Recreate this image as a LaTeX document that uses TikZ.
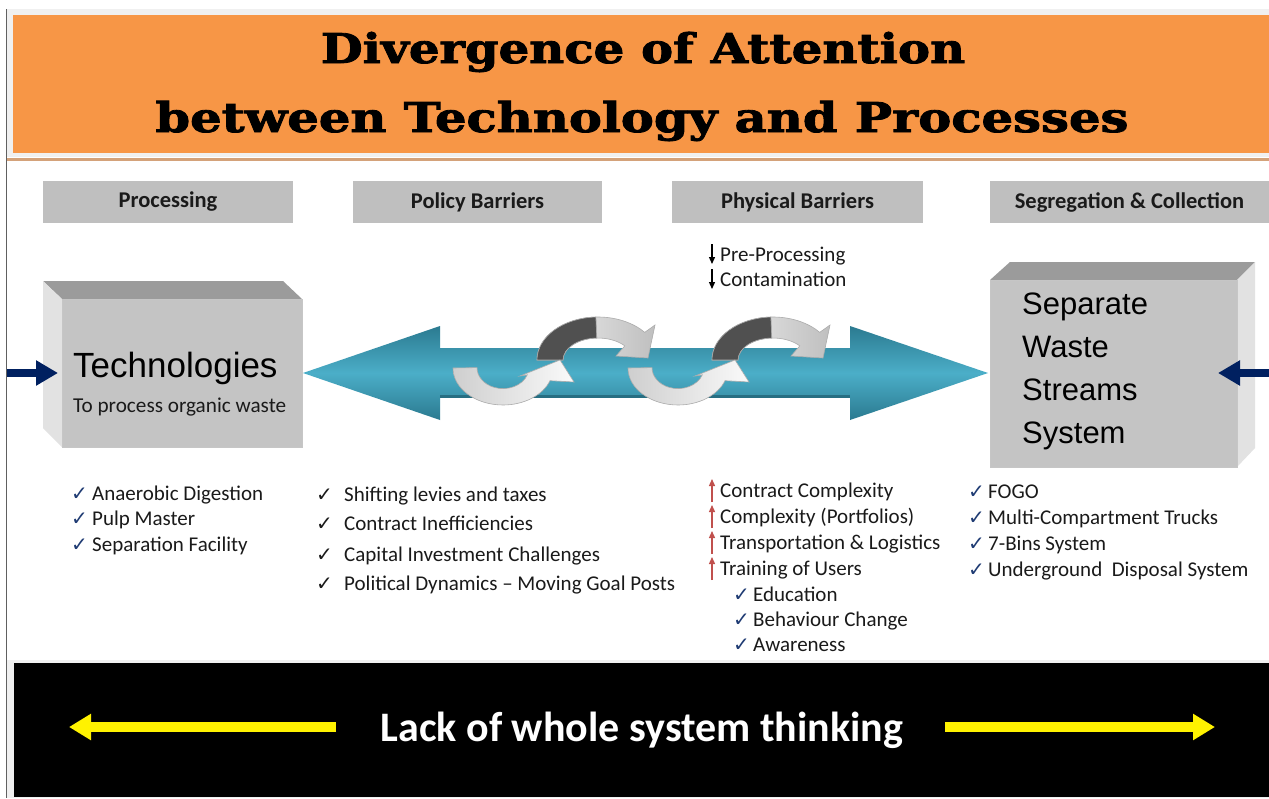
\documentclass[tikz,border=0pt]{standalone}
\usepackage{graphicx}
\usepackage{fontspec}
\setmainfont{Carlito}
\newfontfamily\arialf{Liberation Sans}
\newfontfamily\titlef{DejaVu Serif}[BoldFeatures={FakeBold=2}]
\newfontfamily\symf{DejaVu Sans}
\usetikzlibrary{arrows.meta,calc}
\definecolor{orangeT}{HTML}{F79646}
\definecolor{hdrgray}{HTML}{BFBFBF}
\definecolor{topgray}{HTML}{9B9B9B}
\definecolor{sidegray}{HTML}{E2E2E2}
\definecolor{frontgray}{HTML}{C4C4C4}
\definecolor{navyA}{HTML}{002060}
\definecolor{ckblue}{HTML}{1F3B73}
\definecolor{tealD}{HTML}{2B7A90}
\definecolor{tealL}{HTML}{4BAEC8}
\definecolor{redA}{HTML}{C0504D}
\definecolor{tanline}{HTML}{D4A27A}
\definecolor{txt}{HTML}{1A1A1A}
\definecolor{darkband}{HTML}{505050}
\newcommand{\ckm}{{\symf\fontsize{20}{20}\selectfont ✓}}
\tikzset{
  hdr/.style={fill=hdrgray, minimum height=42pt, inner sep=0pt, text=txt,
    font=\bfseries\fontsize{22.5}{24}\selectfont},
  item/.style={anchor=base west, inner sep=0pt, text=txt, font=\fontsize{21}{24}\selectfont},
  navyarrow/.style={draw=navyA, line width=8pt, -{Triangle[width=24pt,length=22pt]}},
  yelarrow/.style={draw=yellow, line width=10pt, -{Triangle[width=25pt,length=22pt]}},
  redup/.style={draw=redA, line width=1.3pt, -{Triangle[width=6pt,length=7pt]}},
  blkdown/.style={draw=black, line width=1.3pt, -{Triangle[width=6pt,length=7pt]}},
  lightband/.style={draw=gray!65, line width=0.6pt},
}
\begin{document}
\begin{tikzpicture}[x=1pt,y=-1pt]
\useasboundingbox (0,0) rectangle (1269,798);
\fill[white] (0,0) rectangle (1269,798);
% frame and title band
\fill[gray!12] (7,9) rectangle (1269,157);
\fill[orangeT] (13,15) rectangle (1269,153);
\draw[tanline, line width=2.5pt] (7,159.5) -- (1269,159.5);
\draw[gray!75!black, line width=1.2pt] (6.5,9) -- (6.5,798);
\node[anchor=base, inner sep=0pt, font=\titlef\bfseries\fontsize{41}{41}\selectfont] (t1) at (643,63)
  {\scalebox{1.175}[1]{Divergence of Attention}};
\node[anchor=base, inner sep=0pt, font=\titlef\bfseries\fontsize{41}{41}\selectfont] (t2) at (642,132)
  {\scalebox{1.21}[1]{between Technology and Processes}};
% headers
\node[hdr, minimum width=250pt] (h1) at (168,202) {Processing};
\node[hdr, minimum width=249pt] (h2) at (477.5,202) {Policy Barriers};
\node[hdr, minimum width=251pt] (h3) at (797.5,202) {Physical Barriers};
\node[hdr, minimum width=279pt] (h4) at (1129.5,202) {Segregation \& Collection};
% teal double arrow
\path[top color=tealD, bottom color=tealD, middle color=tealL]
  (303,373) -- (440,326) -- (440,348) -- (850,348) -- (850,326) -- (988,373)
  -- (850,420) -- (850,397) -- (440,397) -- (440,420) -- cycle;
\fill[tealD!90!black] (440,395) rectangle (850,397.5);
% circular arrows
\foreach \dx in {0,175}{
\begin{scope}[shift={(503+\dx,368)}]
  \begin{scope}[shift={(95,-8)}]
    \path[lightband, left color=gray!12, right color=gray!50]
      (-61,0) arc[start angle=180,end angle=320,x radius=61,y radius=43]
      -- (57,-35) -- (50,-2) -- (18,-4) -- (26.8,-14.1)
      arc[start angle=320,end angle=180,x radius=35,y radius=22] -- cycle;
    \path[lightband, fill=darkband]
      (-61,0) arc[start angle=180,end angle=268,x radius=61,y radius=43]
      -- ({35*cos(268)},{22*sin(268)})
      arc[start angle=268,end angle=180,x radius=35,y radius=22] -- cycle;
  \end{scope}
  \path[lightband, left color=gray!38, right color=gray!4]
    (-50,0) arc[start angle=180,end angle=20,x radius=50,y radius=37]
    -- (71,14) -- (57,-8) -- (17,8) -- (24.4,6.8)
    arc[start angle=20,end angle=180,x radius=26,y radius=21] -- cycle;
\end{scope}
}
% left 3D box
\fill[topgray] (43,281) -- (283,281) -- (302,299) -- (62,299) -- cycle;
\fill[sidegray] (43,281) -- (62,299) -- (62,447) -- (43,428) -- cycle;
\node[fill=frontgray, draw=gray!45, line width=0.5pt, minimum width=240pt, minimum height=148pt,
  anchor=north west, inner sep=0pt] (tech) at (62,299) {};
\node[anchor=base west, inner sep=0pt, font=\arialf\fontsize{35}{35}\selectfont] (techT) at (73,377) {Technologies};
\node[anchor=base west, inner sep=0pt, text=txt, font=\fontsize{21.2}{24}\selectfont] (techS) at (73,412) {To process organic waste};
% right 3D box
\fill[topgray] (1010,262) -- (1255,262) -- (1237,280) -- (990,280) -- cycle;
\fill[sidegray] (1237,280) -- (1255,262) -- (1255,448) -- (1237,467) -- cycle;
\node[fill=frontgray, draw=gray!45, line width=0.5pt, minimum width=247pt, minimum height=187pt,
  anchor=north west, inner sep=0pt] (sep) at (990,280) {};
\foreach \w/\yy [count=\i] in {Separate/314,Waste/357,Streams/400,System/443}{
  \node[anchor=base west, inner sep=0pt, font=\arialf\fontsize{31}{31}\selectfont] (sw\i) at (1022,\yy) {\w};
}
% navy arrows
\coordinate (nl0) at (7,373); \coordinate (nl1) at (58,373);
\coordinate (nr0) at (1269,373); \coordinate (nr1) at (1218,373);
\draw[navyarrow] (nl0) -- (nl1);
\draw[navyarrow] (nr0) -- (nr1);
% physical barriers top items
\node[item] (pp) at (720,261) {Pre-Processing};
\node[item] (ct) at (720,286) {Contamination};
\draw[blkdown] ($(pp.base west)+(-8,-17)$) -- ($(pp.base west)+(-8,3)$);
\draw[blkdown] ($(ct.base west)+(-8,-17)$) -- ($(ct.base west)+(-8,3)$);
% processing list
\node[item] (a1) at (71,500) {\makebox[21pt][l]{\textcolor{ckblue}{\ckm}}Anaerobic Digestion};
\node[item] (a2) at (71,525) {\makebox[21pt][l]{\textcolor{ckblue}{\ckm}}Pulp Master};
\node[item] (a3) at (71,551) {\makebox[21pt][l]{\textcolor{ckblue}{\ckm}}Separation Facility};
% policy list
\node[item] (b1) at (316,501) {\makebox[28pt][l]{\ckm}Shifting levies and taxes};
\node[item] (b2) at (316,530) {\makebox[28pt][l]{\ckm}Contract Inefficiencies};
\node[item] (b3) at (316,561) {\makebox[28pt][l]{\ckm}Capital Investment Challenges};
\node[item] (b4) at (316,590) {\makebox[28pt][l]{\ckm}Political Dynamics -- Moving Goal Posts};
% physical list
\node[item] (c1) at (720,497) {Contract Complexity};
\node[item] (c2) at (720,523) {Complexity (Portfolios)};
\node[item] (c3) at (720,549) {Transportation \& Logistics};
\node[item] (c4) at (720,575) {Training of Users};
\foreach \n in {c1,c2,c3,c4}{
  \draw[redup] ($(\n.base west)+(-8,5)$) -- ($(\n.base west)+(-8,-18)$);
}
\node[item] (d1) at (733,601) {\makebox[20pt][l]{\textcolor{ckblue}{\ckm}}Education};
\node[item] (d2) at (733,626) {\makebox[20pt][l]{\textcolor{ckblue}{\ckm}}Behaviour Change};
\node[item] (d3) at (733,651) {\makebox[20pt][l]{\textcolor{ckblue}{\ckm}}Awareness};
% segregation list
\node[item] (e1) at (968,498) {\makebox[20pt][l]{\textcolor{ckblue}{\ckm}}FOGO};
\node[item] (e2) at (968,524) {\makebox[20pt][l]{\textcolor{ckblue}{\ckm}}Multi-Compartment Trucks};
\node[item] (e3) at (968,550) {\makebox[20pt][l]{\textcolor{ckblue}{\ckm}}7-Bins System};
\node[item] (e4) at (968,576) {\makebox[20pt][l]{\textcolor{ckblue}{\ckm}}Underground\ \ Disposal System};
% bottom band
\fill[gray!12] (7,660) rectangle (1269,798);
\fill[black] (14,663) rectangle (1269,797);
\node[anchor=base, inner sep=0pt, text=white, font=\bfseries\fontsize{42}{42}\selectfont] (lack) at (642,741)
  {Lack of whole system thinking};
\coordinate (yl0) at (336,727); \coordinate (yl1) at (69,727);
\coordinate (yr0) at (945,727); \coordinate (yr1) at (1215,727);
\draw[yelarrow] (yl0) -- (yl1);
\draw[yelarrow] (yr0) -- (yr1);
\end{tikzpicture}
\end{document}
